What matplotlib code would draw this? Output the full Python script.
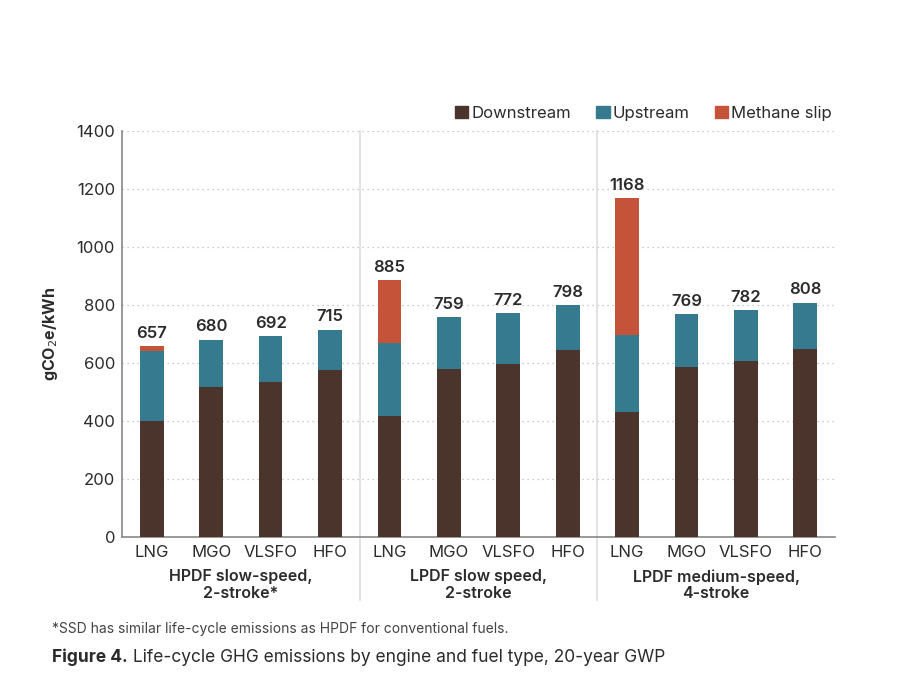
import numpy as np
import matplotlib.pyplot as plt
import matplotlib.transforms as mtransforms
from matplotlib.patches import Patch

plt.rcParams['font.family'] = ['Inter', 'DejaVu Sans']

fuels = ['LNG', 'MGO', 'VLSFO', 'HFO'] * 3
groups = ['HPDF slow-speed,\n2-stroke*', 'LPDF slow speed,\n2-stroke',
          'LPDF medium-speed,\n4-stroke']
downstream = [400, 517, 534, 576, 417, 579, 597, 645, 431, 586, 607, 648]
upstream = [240, 163, 158, 139, 252, 180, 175, 153, 266, 183, 175, 160]
methane = [17, 0, 0, 0, 216, 0, 0, 0, 471, 0, 0, 0]
totals = [657, 680, 692, 715, 885, 759, 772, 798, 1168, 769, 782, 808]

c_down = '#4a342c'
c_up = '#367a8f'
c_meth = '#c4533a'
txt = '#2b2b2b'

fig = plt.figure(figsize=(9, 7), dpi=100)
ax = fig.add_axes([0.1356, 0.233, 0.7922, 0.58])

x = np.arange(len(fuels))
down = np.array(downstream)
up = np.array(upstream)
meth = np.array(methane)
w = 0.4
ax.bar(x, down, w, color=c_down, zorder=3)
ax.bar(x, up, w, bottom=down, color=c_up, zorder=3)
ax.bar(x, meth, w, bottom=down + up, color=c_meth, zorder=3)

for xi, t in zip(x, totals):
    ax.text(xi, t + 18, str(t), ha='center', va='bottom', fontsize=12,
            fontweight='semibold', color=txt)

ax.set_xlim(-0.5, 11.5)
ax.set_ylim(0, 1400)
ax.set_yticks(np.arange(0, 1401, 200))
ax.set_xticks(x)
ax.set_xticklabels(fuels)
ax.tick_params(axis='both', length=0, labelsize=12, colors=txt)
ax.tick_params(axis='x', pad=6)
ax.tick_params(axis='y', pad=5)
ax.yaxis.grid(True, linestyle=(0, (1, 3)), color='#bbbbbb', linewidth=0.9)
ax.set_axisbelow(True)
for s in ['top', 'right']:
    ax.spines[s].set_visible(False)
for s in ['left', 'bottom']:
    ax.spines[s].set_color('#888888')
    ax.spines[s].set_linewidth(1.2)

ax.set_ylabel('gCO$_2$e/kWh', fontsize=11.5, fontweight='bold', color=txt,
              labelpad=12)

# group separators and group labels
for sep in [3.5, 7.5]:
    ax.axvline(sep, ymin=-0.155, ymax=1, color='#dddddd', linewidth=1.2,
               clip_on=False, zorder=1)
trans = mtransforms.blended_transform_factory(ax.transData, ax.transAxes)
for i, g in enumerate(groups):
    ax.text(4 * i + 1.5, -0.08, g, transform=trans, ha='center', va='top',
            fontsize=11.5, fontweight='semibold', color=txt, linespacing=1.1)

handles = [Patch(color=c_down, label='Downstream'),
           Patch(color=c_up, label='Upstream'),
           Patch(color=c_meth, label='Methane slip')]
ax.legend(handles=handles, loc='lower right', bbox_to_anchor=(1.01, 1.0),
          ncol=3, frameon=False, fontsize=12, handlelength=0.8,
          handleheight=0.8, handletextpad=0.2, columnspacing=1.5,
          labelcolor=txt, borderaxespad=0.2)

fig.text(0.058, 0.095, '*SSD has similar life-cycle emissions as HPDF for conventional fuels.',
         fontsize=10, color='#444444')
cap = fig.text(0.058, 0.054, 'Figure 4.', fontsize=12.5, fontweight='bold', color=txt)
fig.canvas.draw()
bb = cap.get_window_extent().transformed(fig.transFigure.inverted())
fig.text(bb.x1 + 0.006, 0.054,
         'Life-cycle GHG emissions by engine and fuel type, 20-year GWP',
         fontsize=12.5, color=txt)

fig.savefig('out.png', dpi=100)
